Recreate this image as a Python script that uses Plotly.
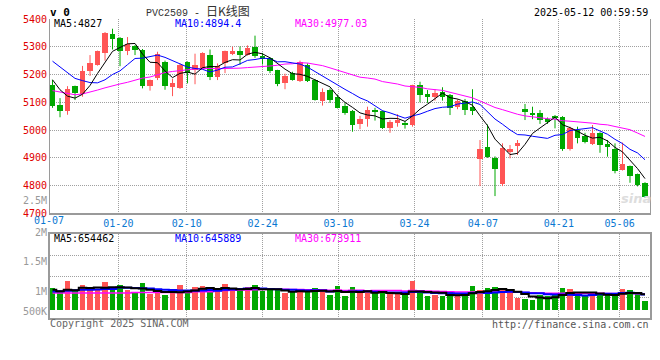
import plotly.graph_objects as go

# ---------------- data ----------------
opens = [5163, 5089, 5070, 5158, 5130, 5214, 5235, 5276, 5346, 5333,
         5283, 5304, 5288, 5159, 5187, 5245, 5155, 5150, 5244, 5218,
         5224, 5270, 5192, 5243, 5273, 5285, 5272, 5300, 5266, 5258,
         5215, 5169, 5205, 5176, 5236, 5182, 5104, 5144, 5120, 5085,
         5070, 5022, 5040, 5072, 5068, 5008, 5026, 5026, 5018, 5162,
         5131, 5120, 5137, 5126, 5083, 5104, 5084, 4895, 4938, 4900,
         4805, 4922, 4942, 5076, 5063, 5062, 5039, 5050, 5046, 4930,
         5000, 4978, 4950, 4988, 4950, 4930, 4856, 4870, 4841, 4808]
highs = [5181, 5115, 5158, 5160, 5231, 5270, 5286, 5353, 5365, 5335,
         5335, 5306, 5292, 5182, 5282, 5250, 5185, 5240, 5247, 5275,
         5280, 5290, 5240, 5286, 5300, 5301, 5305, 5340, 5278, 5262,
         5217, 5203, 5210, 5250, 5240, 5184, 5150, 5150, 5128, 5097,
         5072, 5051, 5084, 5080, 5070, 5036, 5057, 5032, 5163, 5174,
         5144, 5147, 5154, 5130, 5111, 5112, 5147, 4964, 5020, 4905,
         4952, 4946, 4964, 5094, 5084, 5072, 5045, 5054, 5050, 5012,
         5012, 4990, 5018, 4992, 4964, 4952, 4955, 4872, 4843, 4812]
lows = [5080, 5046, 5055, 5108, 5120, 5195, 5232, 5250, 5290, 5230,
        5270, 5270, 5150, 5142, 5180, 5145, 5122, 5148, 5168, 5165,
        5220, 5180, 5180, 5205, 5270, 5235, 5268, 5260, 5236, 5205,
        5158, 5147, 5178, 5173, 5173, 5106, 5088, 5098, 5078, 5055,
        4994, 5003, 5012, 5034, 5004, 4990, 5012, 5005, 5012, 5100,
        5098, 5106, 5106, 5054, 5075, 5054, 5054, 4798, 4900, 4762,
        4798, 4898, 4910, 5036, 5039, 5022, 5022, 5006, 4925, 4926,
        4952, 4952, 4946, 4918, 4904, 4844, 4854, 4810, 4797, 4755]
closes = [5085, 5067, 5148, 5132, 5213, 5243, 5283, 5351, 5327, 5283,
          5309, 5289, 5160, 5180, 5275, 5160, 5170, 5235, 5205, 5236,
          5277, 5192, 5230, 5283, 5285, 5272, 5295, 5265, 5255, 5214,
          5167, 5196, 5182, 5245, 5176, 5108, 5138, 5110, 5080, 5062,
          5018, 5039, 5072, 5064, 5006, 5030, 5036, 5020, 5162, 5128,
          5120, 5135, 5120, 5080, 5104, 5072, 5070, 4930, 4904, 4860,
          4934, 4930, 4952, 5066, 5057, 5036, 5030, 5042, 4930, 5006,
          4970, 4958, 4990, 4946, 4940, 4853, 4877, 4834, 4802, 4759]
volumes = [880000, 780000, 1160000, 780000, 1000000, 840000, 840000, 1120000, 880000, 1000000,
           800000, 680000, 1080000, 640000, 720000, 600000, 720000, 1000000, 800000, 920000,
           960000, 840000, 800000, 1040000, 800000, 800000, 920000, 1000000, 760000, 800000,
           800000, 680000, 760000, 840000, 760000, 880000, 760000, 600000, 960000, 560000,
           920000, 720000, 720000, 680000, 720000, 680000, 680000, 600000, 1160000, 720000,
           560000, 600000, 560000, 720000, 640000, 600000, 960000, 800000, 880000, 920000,
           800000, 720000, 480000, 440000, 400000, 600000, 560000, 680000, 880000, 840000,
           680000, 560000, 680000, 680000, 600000, 600000, 840000, 800000, 680000, 360000]

# moving-average values before a full window exists
ma5_head = [5181, 5145, 5122, 5115]
ma10_head = [5248, 5228, 5206, 5186, 5178, 5171, 5170, 5181, 5200]
ma30_head = [5142, 5137, 5130, 5127, 5130, 5136, 5144, 5152, 5160, 5166,
             5172, 5180, 5187, 5191, 5200, 5207, 5211, 5213, 5217, 5220,
             5222, 5222, 5221, 5221, 5222, 5223, 5225, 5226, 5228]
vma5_head = [840000, 780000, 840000, 820000]
vma10_head = [772000, 780000, 800000, 820000, 840000, 840000, 852000, 868000, 868000]
vma30_head = [708000, 708000, 708000, 708000, 708000, 708000, 708000, 708000, 708000, 708000,
              708000, 732000, 732000, 732000, 732000, 732000, 732000, 732000, 732000, 760000,
              760000, 760000, 800000, 808000, 816000, 824000, 832000, 840000, 848000]

date_labels = ["01-07", "01-20", "02-10", "02-24", "03-10", "03-24", "04-07", "04-21", "05-06"]
date_index = [0, 9, 18, 28, 38, 48, 57, 67, 75]
price_ticks = [4700, 4800, 4900, 5000, 5100, 5200, 5300, 5400]
vol_tick_labels = ["2.5M", "2M", "1.5M", "1M", "500K"]

legend_price = ["MA5:4827", "MA10:4894.4", "MA30:4977.03"]
legend_vol = ["MA5:654462", "MA10:645889", "MA30:673911"]

# ---------------- styling ----------------
RED = "#ff5555"
GREEN = "#00a800"
GRID = "#a0a0a0"
FRAME = "#9a9a9a"
MONO = "DejaVu Sans Mono"
W, H = 660, 360
ML, MR, MT, MB = 50, 10, 19, 42
PH = H - MT - MB  # plot height in px
PW = W - ML - MR


def px_x(px):
    return (px - ML) / PW


def px_y(py):
    return (H - MB - py) / PH


def moving(values, window, head):
    out = list(head)
    for i in range(len(head), len(values)):
        out.append(sum(values[i - window + 1:i + 1]) / window)
    return out


n = len(closes)
xs = list(range(n))
up = [i for i in xs if closes[i] >= opens[i]]
dn = [i for i in xs if closes[i] < opens[i]]

ma5 = moving(closes, 5, ma5_head)
ma10 = moving(closes, 10, ma10_head)
ma30 = moving(closes, 30, ma30_head)
vma5 = moving(volumes, 5, vma5_head)
vma10 = moving(volumes, 10, vma10_head)
vma30 = moving(volumes, 30, vma30_head)

fig = go.Figure()


def wicks(idx):
    wx, wy = [], []
    for i in idx:
        wx += [i, i, None]
        wy += [lows[i], highs[i], None]
    return wx, wy


for idx, col in ((up, RED), (dn, GREEN)):
    wx, wy = wicks(idx)
    fig.add_trace(go.Scatter(x=wx, y=wy, mode="lines", line=dict(color=col, width=1),
                             xaxis="x", yaxis="y", hoverinfo="skip"))
    fig.add_trace(go.Bar(x=idx,
                         y=[max(abs(closes[i] - opens[i]), 4) for i in idx],
                         base=[min(closes[i], opens[i]) for i in idx],
                         width=0.7, marker=dict(color=col, line=dict(width=0)),
                         xaxis="x", yaxis="y"))

for ser, col in ((ma30, "#ff00ff"), (ma10, "#0000ff"), (ma5, "#000000")):
    fig.add_trace(go.Scatter(x=xs, y=ser, mode="lines", line=dict(color=col, width=1),
                             xaxis="x", yaxis="y"))

for idx, col in ((up, RED), (dn, GREEN)):
    fig.add_trace(go.Bar(x=idx, y=[volumes[i] for i in idx], width=0.76,
                         marker=dict(color=col, line=dict(width=0)),
                         xaxis="x2", yaxis="y2"))

for ser, col, wd in ((vma30, "#ff00ff", 1.5), (vma10, "#0000ff", 2), (vma5, "#000000", 2)):
    fig.add_trace(go.Scatter(x=xs, y=ser, mode="lines", line=dict(color=col, width=wd, shape="hvh"),
                             xaxis="x2", yaxis="y2"))

# sina grid positions (gridlines are spaced over 79 intervals of the 600px panel)
grid_x = [d * 80 / 79 - 1 / 3 for d in date_index]
xrange = [-1 / 3 - 0.003, 79 + 2 / 3]

px_per_vol = 1 / 40000.0
vol_base_px = 310.7
vol_range = [-(318 - vol_base_px) / px_per_vol, (vol_base_px - 234.3) / px_per_vol]
vol_grid = [(vol_base_px - p) / px_per_vol for p in (255.3, 276.2, 297.1)]

common_grid = dict(showgrid=True, gridcolor=GRID, griddash="1px,1px", gridwidth=1,
                   ticks="", zeroline=False, automargin=False)

fig.update_layout(
    width=W, height=H, autosize=False,
    margin=dict(l=ML, r=MR, t=MT, b=MB, pad=0, autoexpand=False),
    paper_bgcolor="white", plot_bgcolor="white",
    showlegend=False, barmode="overlay", bargap=0,
    font=dict(family=MONO, size=10, color="#000"),
    xaxis=dict(domain=[0, 1], range=xrange, anchor="y",
               tickmode="array", tickvals=grid_x[1:], ticktext=date_labels[1:],
               tickfont=dict(family=MONO, size=10, color="#0a78d2"),
               showline=True, linecolor=FRAME, linewidth=2, mirror=False,
               **common_grid),
    yaxis=dict(domain=[px_y(213.3), 1], range=[4700, 5400], anchor="x",
               tickmode="array", tickvals=price_ticks, ticktext=[str(v) for v in price_ticks],
               tickfont=dict(family=MONO, size=10, color="#e00000"),
               showline=True, linecolor=FRAME, linewidth=1, mirror=True,
               **common_grid),
    xaxis2=dict(domain=[0, 1], range=xrange, anchor="y2",
                tickmode="array", tickvals=grid_x[1:], showticklabels=False,
                showline=True, linecolor=FRAME, linewidth=2, mirror=True,
                **common_grid),
    yaxis2=dict(domain=[0, px_y(234.3)], range=vol_range, anchor="x2",
                tickmode="array", tickvals=vol_grid, showticklabels=False,
                showline=True, linecolor=FRAME, linewidth=2, mirror=True,
                **common_grid),
)

ann = []


def add_text(text, px, py, anchor="left", color="#000", size=10, family=MONO):
    ann.append(dict(text=text, x=px_x(px), y=px_y(py), xref="paper", yref="paper",
                    xanchor=anchor, yanchor="middle", showarrow=False,
                    font=dict(family=family, size=size, color=color), borderpad=0))


add_text("<b>v 0</b>", 49, 12, size=11)
add_text("PVC2509 - <span style='font-family:Noto Sans CJK SC;font-size:12px'>日K线图</span>",
         198, 10.5, anchor="center", color="#333333", family="Liberation Mono")
add_text("2025-05-12 00:59:59", 649, 12, anchor="right")
add_text(date_labels[0], 49, 220.5, anchor="center", color="#0a78d2")

for t, px_, col in zip(legend_price, (53, 174, 294), ("#000000", "#0000ff", "#ff00ff")):
    add_text(t, px_, 24, color=col)
for t, px_, col in zip(legend_vol, (53, 174, 294), ("#000000", "#0000ff", "#ff00ff")):
    add_text(t, px_, 238.5, color=col)
for t, py in zip(vol_tick_labels, (200, 232.5, 261, 291, 311)):
    add_text(t, 47.5, py, anchor="right", color="#999999")

add_text("Copyright 2025 SINA.COM", 49, 323.5, color="#666666")
add_text("http://finance.sina.com.cn", 650, 324, anchor="right", color="#555555")
add_text("<b><i>sina</i></b>", 636, 198, anchor="center", color="#dddddd", size=13,
         family="DejaVu Sans")

fig.update_layout(annotations=ann)

fig.write_html("out.html",
               config={"displayModeBar": False},
               post_script="document.body.style.margin='0px';document.body.style.padding='0px';")
